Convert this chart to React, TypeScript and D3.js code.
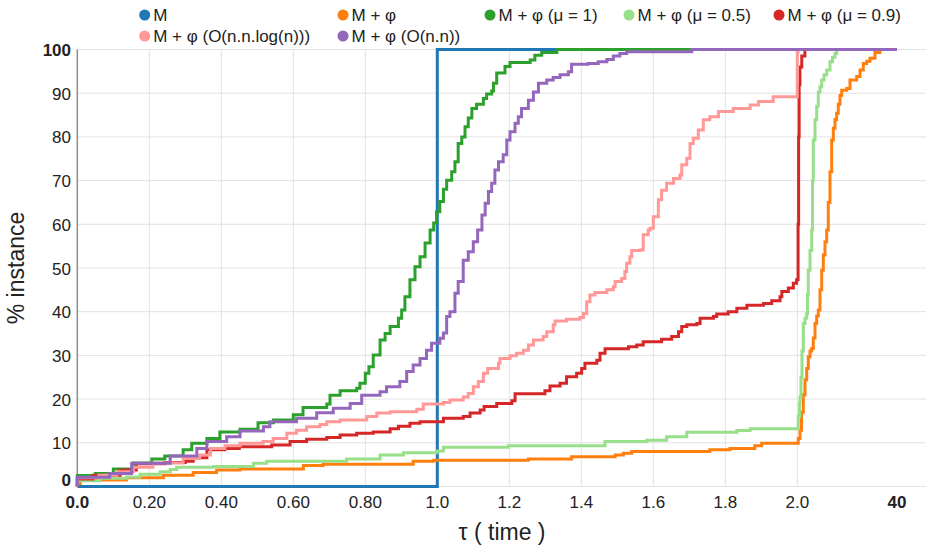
import React from "react";
import * as d3 from "d3";

type Pt = [number, number];

const seriesNames = [
  "M",
  "M + φ",
  "M + φ (μ = 1)",
  "M + φ (μ = 0.5)",
  "M + φ (μ = 0.9)",
  "M + φ (O(n.n.log(n)))",
  "M + φ (O(n.n))",
];

const seriesColors = ["#1f77b4", "#ff7f0e", "#2ca02c", "#98df8a", "#d62728", "#ff9896", "#9467bd"];

const xTickValues = [0, 0.2, 0.4, 0.6, 0.8, 1.0, 1.2, 1.4, 1.6, 1.8, 2.0, 40];
const xTickLabels = ["0.0", "0.20", "0.40", "0.60", "0.80", "1.0", "1.2", "1.4", "1.6", "1.8", "2.0", "40"];
const yTickValues = [0, 10, 20, 30, 40, 50, 60, 70, 80, 90, 100];

const seriesM: Pt[] = [[0, 0], [1.0, 100], [40, 100]];

const seriesMphi: Pt[] = [
  [0, 0], [0, 0.7], [0.008, 1.5], [0.137, 2.0], [0.239, 2.6], [0.322, 3.2], [0.387, 3.8], [0.452, 4.0],
  [0.628, 4.8], [0.683, 5.1], [0.933, 5.8], [0.99, 6.0], [1.253, 6.3], [1.373, 6.8], [1.494, 7.2],
  [1.517, 7.6], [1.54, 8.0], [1.757, 8.4], [1.813, 8.7], [1.882, 9.3], [1.901, 9.9], [2.38, 11],
  [3.03, 12.9], [3.6, 17], [4.29, 21], [4.93, 24.4], [5.58, 27], [6.19, 29.7], [6.84, 31], [7.49, 31.6],
  [8.1, 34], [8.75, 37.3], [9.39, 39], [10.0, 40.4], [10.65, 45], [11.3, 49.5], [11.91, 53], [12.55, 56],
  [13.2, 58.7], [13.81, 65], [14.46, 72], [15.1, 79.3], [15.72, 82], [16.36, 84], [17.0, 85.4],
  [17.62, 87.5], [18.27, 89.5], [18.92, 90.7], [20.83, 91.1], [22.08, 93], [24.64, 93.8], [25.9, 95.3],
  [27.15, 96.8], [28.45, 97.3], [29.7, 98], [31.6, 99.3], [33.5, 100], [40, 100],
];

const seriesMu1: Pt[] = [
  [0, 0], [0, 2.5], [0.05, 3.0], [0.1, 4.0], [0.156, 5.4], [0.207, 6.3], [0.243, 7.0], [0.294, 8.4],
  [0.318, 9.9], [0.36, 11.0], [0.396, 12.5], [0.452, 13.1], [0.502, 14.6], [0.545, 15.2], [0.6, 16.4],
  [0.627, 18.1], [0.693, 18.9], [0.702, 20.9], [0.73, 21.9], [0.776, 22.5], [0.785, 23.6], [0.8, 25.9],
  [0.81, 27.4], [0.822, 30.1], [0.841, 33.5], [0.855, 35], [0.869, 36.6], [0.892, 38.5], [0.901, 40.4],
  [0.91, 43.4], [0.924, 47.3], [0.938, 50.3], [0.952, 52.6], [0.966, 55.7], [0.98, 58.7], [0.99, 60.3],
  [0.998, 62.9], [1.007, 65.2], [1.017, 68], [1.026, 70.1], [1.04, 72], [1.049, 74.3], [1.058, 78.5],
  [1.068, 80], [1.077, 82.3], [1.086, 84.3], [1.096, 86.5], [1.109, 87.5], [1.128, 88.8], [1.137, 89.8],
  [1.151, 90.5], [1.156, 92.3], [1.165, 94.6], [1.188, 96.1], [1.202, 97], [1.258, 97.6], [1.271, 98.7],
  [1.29, 99.3], [1.332, 100], [40, 100],
];

const seriesMu05: Pt[] = [
  [0, 0], [0, 1.3], [0.063, 1.9], [0.137, 2.2], [0.174, 2.8], [0.23, 3.4], [0.258, 3.9], [0.276, 4.4],
  [0.378, 4.6], [0.489, 5.3], [0.526, 5.8], [0.748, 6.3], [0.841, 7.2], [0.906, 7.7], [0.998, 8.1],
  [1.017, 9.0], [1.197, 9.3], [1.466, 10.3], [1.582, 10.6], [1.637, 11.4], [1.693, 12.4], [1.832, 12.8],
  [1.869, 13.2], [2.38, 16], [2.84, 19], [3.03, 20.5], [3.41, 25], [3.79, 31], [4.29, 37.3], [4.93, 38.5],
  [5.58, 39.6], [5.89, 44], [6.19, 49.5], [6.84, 54], [7.49, 58.7], [7.79, 70], [8.1, 79.3], [8.75, 83.9],
  [9.39, 87], [10.0, 90.3], [10.65, 91.5], [11.3, 93], [12.18, 94.2], [13.2, 95.3], [14.46, 97.2],
  [15.41, 98.2], [16.36, 99.1], [17.0, 100], [40, 100],
];

const seriesMu09: Pt[] = [
  [0, 0], [0, 1.7], [0.044, 2.6], [0.119, 3.8], [0.164, 5.2], [0.243, 5.5], [0.3, 5.8], [0.322, 6.6],
  [0.36, 8.4], [0.41, 8.7], [0.45, 9.1], [0.54, 9.5], [0.591, 10.3], [0.637, 10.8], [0.693, 11.2],
  [0.73, 11.8], [0.776, 12.2], [0.822, 12.5], [0.869, 13.2], [0.892, 13.8], [0.924, 14.5], [0.952, 14.8],
  [1.017, 15.6], [1.072, 16], [1.091, 16.8], [1.119, 17.5], [1.13, 18.3], [1.165, 19], [1.207, 19.6],
  [1.216, 21.2], [1.299, 21.9], [1.313, 23], [1.341, 23.6], [1.359, 25.1], [1.387, 25.9], [1.401, 27],
  [1.41, 28.2], [1.443, 28.9], [1.452, 30.5], [1.466, 31.5], [1.531, 32], [1.554, 32.4], [1.572, 33.1],
  [1.623, 33.7], [1.651, 34.3], [1.67, 35.4], [1.679, 36.6], [1.693, 37], [1.721, 37.3], [1.73, 38.5],
  [1.767, 38.9], [1.776, 39.5], [1.808, 40], [1.832, 40.8], [1.86, 41.5], [1.906, 41.9], [1.929, 42.5],
  [1.952, 43.4], [1.957, 44.6], [1.975, 45.4], [1.989, 46.5], [1.998, 47.3], [2.3, 60], [2.5, 80],
  [2.7, 92], [3.0, 96], [3.7, 98.5], [4.9, 100], [40, 100],
];

const seriesNlogN: Pt[] = [
  [0, 0], [0, 2.0], [0.06, 2.6], [0.11, 3.4], [0.156, 4.4], [0.21, 5.4], [0.294, 6.4], [0.34, 7.2],
  [0.37, 8.7], [0.41, 9.3], [0.452, 9.9], [0.516, 10.3], [0.544, 11], [0.582, 12.2], [0.609, 12.9],
  [0.637, 13.7], [0.674, 14.2], [0.693, 14.8], [0.73, 15.2], [0.804, 16], [0.832, 16.8], [0.869, 17.1],
  [0.943, 17.7], [0.961, 18.9], [1.017, 19.2], [1.035, 19.8], [1.072, 20.5], [1.086, 21.3], [1.1, 22.8],
  [1.114, 24], [1.128, 25.9], [1.14, 27], [1.17, 28.2], [1.174, 29.3], [1.202, 29.9], [1.22, 30.5],
  [1.239, 31.2], [1.253, 32.4], [1.267, 33.5], [1.294, 34.3], [1.304, 35.4], [1.322, 37], [1.327, 37.9],
  [1.359, 38.3], [1.396, 38.7], [1.406, 39.6], [1.415, 42.3], [1.424, 43.8], [1.438, 44.4], [1.471, 45],
  [1.489, 45.7], [1.494, 46.9], [1.512, 47.6], [1.521, 49.2], [1.526, 51.1], [1.535, 52.6], [1.54, 54],
  [1.563, 54.1], [1.572, 57.6], [1.586, 58.7], [1.591, 59.1], [1.6, 61.7], [1.614, 65.6], [1.623, 67.8],
  [1.637, 69.4], [1.656, 70.5], [1.674, 71.3], [1.679, 73.6], [1.693, 75.1], [1.702, 78.5], [1.711, 79.7],
  [1.725, 81.6], [1.739, 83.9], [1.757, 84.6], [1.781, 85.8], [1.822, 86.5], [1.869, 87.3], [1.892, 88.1],
  [1.933, 89.2], [2.0, 99.5], [2.3, 100], [40, 100],
];

const seriesNN: Pt[] = [
  [0, 0], [0, 2.1], [0.09, 3.0], [0.151, 5.3], [0.258, 7.0], [0.332, 8.7], [0.36, 10.3], [0.415, 11.4],
  [0.452, 12.7], [0.517, 13.7], [0.535, 14.8], [0.609, 15.6], [0.665, 16.9], [0.711, 17.9], [0.758, 19],
  [0.79, 20.9], [0.841, 21.7], [0.859, 22.8], [0.896, 24], [0.915, 26.3], [0.933, 27.8], [0.952, 29.3],
  [0.97, 31.2], [0.984, 32.8], [1.007, 33.9], [1.017, 35.1], [1.026, 38.9], [1.035, 40], [1.049, 44.2],
  [1.058, 46.9], [1.072, 51.8], [1.086, 53.7], [1.1, 56], [1.112, 58.7], [1.124, 62.1], [1.133, 64.8],
  [1.142, 67.5], [1.151, 69.4], [1.16, 72.4], [1.17, 74.3], [1.183, 75.9], [1.193, 79.3], [1.202, 81.2],
  [1.216, 83.1], [1.225, 84.6], [1.234, 86.5], [1.253, 88.4], [1.267, 90.3], [1.281, 92.3], [1.304, 93],
  [1.322, 93.6], [1.341, 94.2], [1.364, 94.9], [1.373, 96.6], [1.419, 96.8], [1.447, 97.2], [1.471, 97.7],
  [1.489, 98.5], [1.507, 99.1], [1.526, 99.5], [1.707, 100], [40, 100],
];

const allSeries: Pt[][] = [seriesM, seriesMphi, seriesMu1, seriesMu05, seriesMu09, seriesNlogN, seriesNN];

const W = 926;
const H = 550;
const FONT = "'Liberation Sans', Arial, Helvetica, sans-serif";

export default function App() {
  const x = d3.scaleLinear().domain([0, 2, 40]).range([77.3, 797.3, 897]);
  const y = d3.scaleLinear().domain([0, 100]).range([486.5, 49.5]);
  const line = d3
    .line<Pt>()
    .x((d) => x(d[0]))
    .y((d) => y(d[1]))
    .curve(d3.curveStepAfter);

  const legendPos: [number, number][] = [
    [144.7, 15], [343, 15], [490, 15], [629, 15], [779, 15],
    [144.7, 36], [343, 36],
  ];

  const lastX = xTickValues.length - 1;
  const lastY = yTickValues.length - 1;

  return (
    <svg
      width={W}
      height={H}
      style={{ position: "absolute", left: 0, top: 0, background: "#fff" }}
      fontFamily={FONT}
    >
      {yTickValues.map((v) => (
        <line key={"hg" + v} x1={x(0)} x2={W} y1={y(v)} y2={y(v)} stroke="#e2e2e2" strokeWidth={1} />
      ))}
      {xTickValues
        .filter((v) => v > 0 && v <= 2)
        .map((v) => (
          <line key={"vg" + v} x1={x(v)} x2={x(v)} y1={y(100)} y2={y(0)} stroke="#e2e2e2" strokeWidth={1} />
        ))}
      <line x1={x(0)} x2={x(0)} y1={y(100)} y2={y(0)} stroke="#8c8c8c" strokeWidth={1.5} />

      {allSeries.map((s, i) => (
        <path
          key={"s" + i}
          d={line(s) || ""}
          fill="none"
          stroke={seriesColors[i]}
          strokeWidth={3}
        />
      ))}

      {yTickValues.map((v, i) => (
        <text
          key={"yt" + v}
          x={71}
          y={i === 0 ? y(v) - 0.5 : y(v) + 6.5}
          textAnchor="end"
          fontSize={17}
          fontWeight={i === 0 || i === lastY ? "bold" : "normal"}
          fill="#222"
        >
          {v}
        </text>
      ))}

      {xTickValues.map((v, i) => (
        <text
          key={"xt" + i}
          x={x(v)}
          y={508}
          textAnchor="middle"
          fontSize={17}
          fontWeight={i === 0 || i === lastX ? "bold" : "normal"}
          fill="#222"
        >
          {xTickLabels[i]}
        </text>
      ))}

      <text x={502} y={540} textAnchor="middle" fontSize={23} fill="#222">
        τ ( time )
      </text>
      <text
        transform={`translate(24, ${(y(0) + y(100)) / 2}) rotate(-90)`}
        textAnchor="middle"
        fontSize={23}
        fill="#222"
      >
        % instance
      </text>

      {seriesNames.map((name, i) => (
        <g key={"lg" + i} transform={`translate(${legendPos[i][0]}, ${legendPos[i][1]})`}>
          <circle r={5.5} fill={seriesColors[i]} />
          <text x={8.5} y={0} dy="0.35em" fontSize={17} fill="#222">
            {name}
          </text>
        </g>
      ))}
    </svg>
  );
}
